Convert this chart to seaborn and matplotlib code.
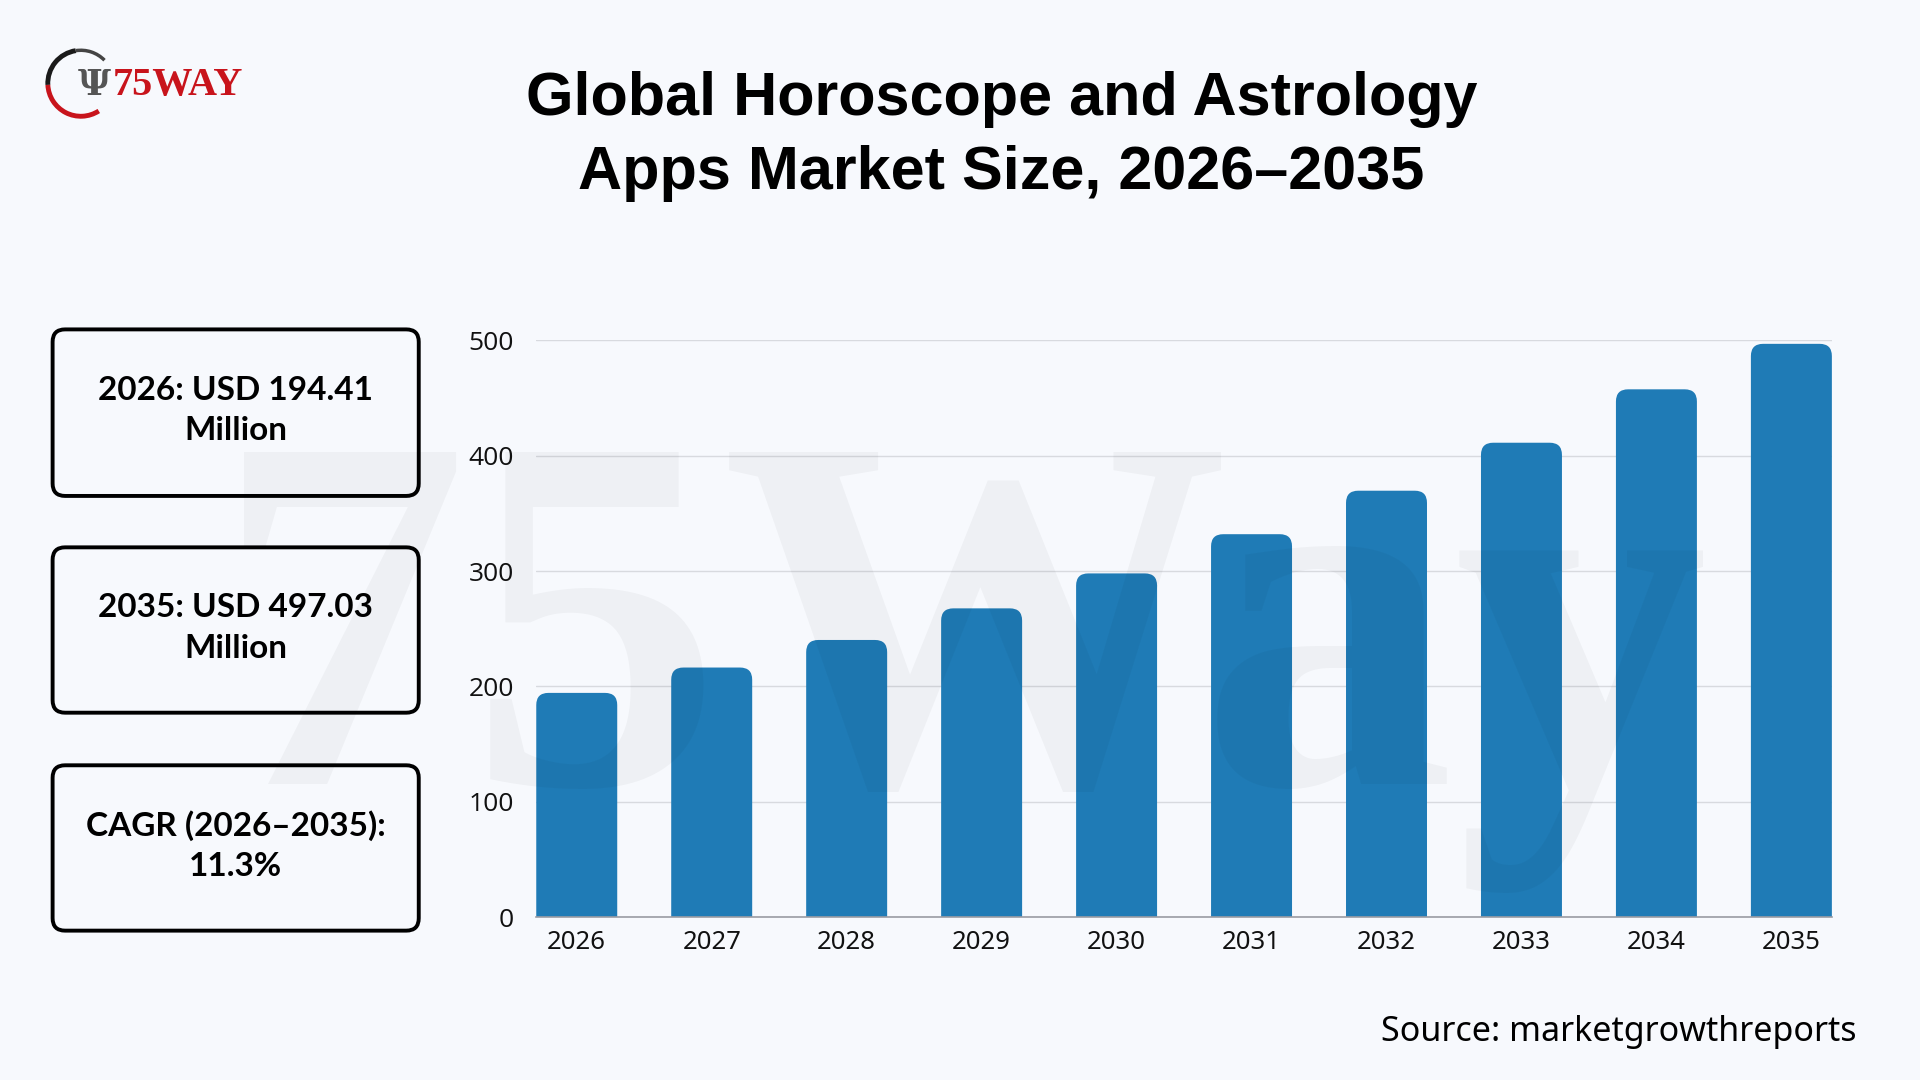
import matplotlib
matplotlib.use("Agg")
import matplotlib.pyplot as plt
import seaborn as sns
import pandas as pd
from matplotlib.patches import FancyBboxPatch, Arc

# ---- data ----
years = ["2026", "2027", "2028", "2029", "2030", "2031", "2032", "2033", "2034", "2035"]
market_size = [194.41, 216.4, 240.3, 267.7, 298.0, 332.0, 369.7, 411.3, 457.6, 497.03]
y_ticks = [0, 100, 200, 300, 400, 500]
box_texts = ["2026: USD 194.41\nMillion", "2035: USD 497.03\nMillion", "CAGR (2026\u20132035):\n11.3%"]
title_text = "Global Horoscope and Astrology\nApps Market Size, 2026\u20132035"
source_text = "Source: marketgrowthreports"

BG = "#f7f9fd"
BAR = "#1f7bb6"

sns.set_theme(style="white")
plt.rcParams["font.family"] = ["DejaVu Sans"]

fig = plt.figure(figsize=(19.2, 10.8), dpi=100, facecolor=BG)
ax = fig.add_axes([0.2793, 0.1508, 0.9541 - 0.2793, 0.6848 - 0.1508])
ax.set_facecolor(BG)

df = pd.DataFrame({"year": years, "value": market_size})
sns.barplot(data=df, x="year", y="value", color=BAR, width=0.6, saturation=1, ax=ax, zorder=2)

# rounded tops: replace rectangles with rounded boxes (bottom clipped by axis at 0)
r_x = 0.09
asp = 117.0
for p in list(ax.patches):
    x0, w, h = p.get_x(), p.get_width(), p.get_height()
    p.set_visible(False)
    fb = FancyBboxPatch((x0, -20), w, h + 20,
                        boxstyle=f"round,pad=0,rounding_size={r_x}",
                        mutation_aspect=asp, facecolor=BAR, edgecolor="none",
                        zorder=2, clip_on=True)
    ax.add_patch(fb)

ax.set_xlim(-0.3, len(years) - 0.7)
ax.set_ylim(0, 500)
ax.set_yticks(y_ticks)
ax.set_yticklabels([str(v) for v in y_ticks], fontsize=19, family="Open Sans", color="#111111")
ax.set_xticks(range(len(years)))
ax.set_xticklabels(years, fontsize=18.5, family="Noto Sans", color="#111111")
ax.set_xlabel("")
ax.set_ylabel("")
ax.tick_params(axis="both", length=0)
ax.tick_params(axis="y", pad=16)
ax.tick_params(axis="x", pad=9)
ax.yaxis.grid(True, color="#d8dadf", linewidth=1.0, zorder=0)
ax.xaxis.grid(False)
for s in ["top", "right", "left"]:
    ax.spines[s].set_visible(False)
ax.spines["bottom"].set_color("#9a9ca3")
ax.spines["bottom"].set_linewidth(1.2)
ax.set_axisbelow(True)

# watermark
fig.text(0.5006, 0.274, "75Way", fontsize=365, family="Liberation Serif", weight="bold",
         color="black", alpha=0.035, ha="center", va="baseline", zorder=10)

# title
fig.text(0.5217, 0.8735, title_text, fontsize=44, family="Liberation Sans", weight="bold",
         ha="center", va="center", linespacing=1.39, color="black")

# info boxes
box_l, box_r = 0.0274, 0.2181
boxes = [(0.5408, 0.695), (0.3401, 0.4932), (0.1383, 0.2914)]
for (b, t), txt in zip(boxes, box_texts):
    fb = FancyBboxPatch((box_l, b), box_r - box_l, t - b,
                        boxstyle="round,pad=0,rounding_size=0.0065",
                        mutation_aspect=1920 / 1080, transform=fig.transFigure,
                        facecolor=BG, edgecolor="black", linewidth=2.8, zorder=3)
    fig.add_artist(fb)
    fig.text((box_l + box_r) / 2, (b + t) / 2 + 0.002, txt, fontsize=24, family="Lato",
             weight="bold", ha="center", va="center", linespacing=1.48, color="black", zorder=4)

# source
fig.text(0.9668, 0.0445, source_text, fontsize=24.5, family="Noto Sans", ha="right",
         va="center", color="black")

# logo
cx, cy = 0.0421, 0.9229
fig.add_artist(Arc((cx, cy), 0.0344, 0.0611, theta1=95, theta2=185, transform=fig.transFigure,
                   color="#1a1a1a", linewidth=3.5))
fig.add_artist(Arc((cx, cy), 0.0344, 0.0611, theta1=185, theta2=290, transform=fig.transFigure,
                   color="#c8141c", linewidth=3.5))
fig.add_artist(Arc((cx, cy), 0.0344, 0.0611, theta1=60, theta2=95, transform=fig.transFigure,
                   color="#444444", linewidth=2.5))
fig.text(0.049, 0.921, "\u03a8", fontsize=26, family="DejaVu Serif", weight="bold",
         color="#555555", ha="center", va="center")
fig.text(0.0585, 0.921, "75WAY", fontsize=29, family="Liberation Serif", weight="bold",
         color="#c8141c", ha="left", va="center")

fig.savefig("out.png", dpi=100, facecolor=BG)
